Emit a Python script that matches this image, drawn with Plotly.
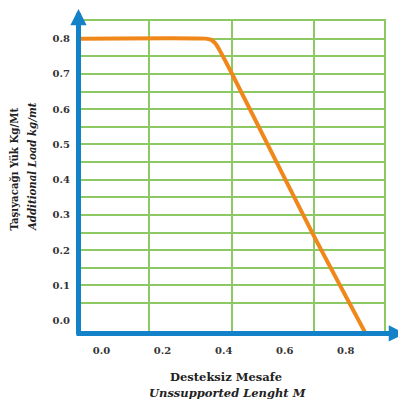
import plotly.graph_objects as go

# ---- data ----
X_CURVE = [-0.07, 0.340, 0.358, 0.372, 0.385, 0.427, 0.689, 0.864]
Y_CURVE = [0.800, 0.800, 0.797, 0.787, 0.770, 0.701, 0.251, -0.035]

X_TICKS = [0.0, 0.2, 0.4, 0.6, 0.8]
X_TICK_TEXT = ["0.0", "0.2", "0.4", "0.6", "0.8"]
Y_TICKS = [0.0, 0.1, 0.2, 0.3, 0.4, 0.5, 0.6, 0.7, 0.8]
Y_TICK_TEXT = ["0.0", "0.1", "0.2", "0.3", "0.4", "0.5", "0.6", "0.7", "0.8"]

X_GRID = [0.155, 0.427, 0.696, 0.925]
Y_GRID = [0.05, 0.10, 0.15, 0.20, 0.25, 0.30, 0.35, 0.40, 0.45,
          0.50, 0.55, 0.60, 0.65, 0.70, 0.75, 0.80, 0.85]

X_RANGE = [-0.0736, 0.925]
Y_RANGE = [-0.035, 0.85]

X_TITLE = ["Desteksiz Mesafe", "Unssupported Lenght M"]
Y_TITLE = ["Taşıyacağı Yük Kg/Mt", "Additional Load kg/mt"]

BLUE = "#1482C8"
ORANGE = "#F0871A"
GREEN = "#8CC864"
TEXT = "#333333"
FONT = "DejaVu Serif"

fig = go.Figure()
fig.add_trace(go.Scatter(
    x=X_CURVE, y=Y_CURVE, mode="lines",
    line=dict(color=ORANGE, width=4, shape="spline", smoothing=0.6),
    hoverinfo="skip", showlegend=False,
))

tickfont = dict(family=FONT, size=10, color=TEXT, weight="bold")

fig.update_layout(
    width=398, height=400,
    margin=dict(l=71, r=22, t=13, b=75),
    paper_bgcolor="white", plot_bgcolor="white",
    showlegend=False,
    xaxis=dict(
        range=X_RANGE, tickvals=X_TICKS, ticktext=X_TICK_TEXT,
        showgrid=False, zeroline=False, automargin=False,
        showline=True, mirror=True, linecolor=GREEN, linewidth=1.5,
        ticks="outside", ticklen=7, tickcolor="rgba(0,0,0,0)",
        tickfont=tickfont,
        minor=dict(tickvals=X_GRID, showgrid=True, gridcolor=GREEN,
                   gridwidth=1.5, ticks=""),
    ),
    yaxis=dict(
        range=Y_RANGE, tickvals=Y_GRID, showticklabels=False,
        showgrid=True, gridcolor=GREEN, gridwidth=1.5, zeroline=False,
        showline=True, mirror=True, linecolor=GREEN, linewidth=1.5,
        ticks="", automargin=False,
    ),
    yaxis2=dict(
        range=Y_RANGE, overlaying="y", anchor="x", side="left",
        tickvals=Y_TICKS, ticktext=Y_TICK_TEXT, automargin=False,
        showgrid=False, zeroline=False, showline=False,
        ticks="outside", ticklen=6, tickcolor="rgba(0,0,0,0)",
        tickfont=tickfont,
    ),
)

# dummy trace to activate yaxis2
fig.add_trace(go.Scatter(x=[None], y=[None], yaxis="y2", showlegend=False,
                         hoverinfo="skip"))

# blue axis arrows
fig.add_annotation(x=-0.0016, y=1.058, xref="paper", yref="paper",
                   ax=0, ay=333, axref="pixel", ayref="pixel",
                   showarrow=True, arrowhead=2, arrowsize=0.65,
                   arrowwidth=5, arrowcolor=BLUE, text="")
fig.add_annotation(x=1.069, y=-0.0016, xref="paper", yref="paper",
                   ax=-330, ay=0, axref="pixel", ayref="pixel",
                   showarrow=True, arrowhead=2, arrowsize=0.65,
                   arrowwidth=5, arrowcolor=BLUE, text="")

# axis titles
fig.add_annotation(x=0.482, y=-0.141, xref="paper", yref="paper",
                   text="<b>" + X_TITLE[0] + "</b>", showarrow=False,
                   xanchor="center", yanchor="middle",
                   font=dict(family=FONT, size=11.5, color="#222222"))
fig.add_annotation(x=0.489, y=-0.192, xref="paper", yref="paper",
                   text="<b><i>" + X_TITLE[1] + "</i></b>", showarrow=False,
                   xanchor="center", yanchor="middle",
                   font=dict(family=FONT, size=11.5, color="#222222"))
fig.add_annotation(x=-0.214, y=0.526, xref="paper", yref="paper",
                   text="<b>" + Y_TITLE[0] + "</b>", showarrow=False,
                   textangle=-90, xanchor="center", yanchor="middle",
                   borderpad=0,
                   font=dict(family=FONT, size=10.2, color="#222222"))
fig.add_annotation(x=-0.154, y=0.532, xref="paper", yref="paper",
                   text="<b><i>" + Y_TITLE[1] + "</i></b>", showarrow=False,
                   textangle=-90, xanchor="center", yanchor="middle",
                   borderpad=0,
                   font=dict(family=FONT, size=10.2, color="#222222"))

fig.write_html("out.html")
